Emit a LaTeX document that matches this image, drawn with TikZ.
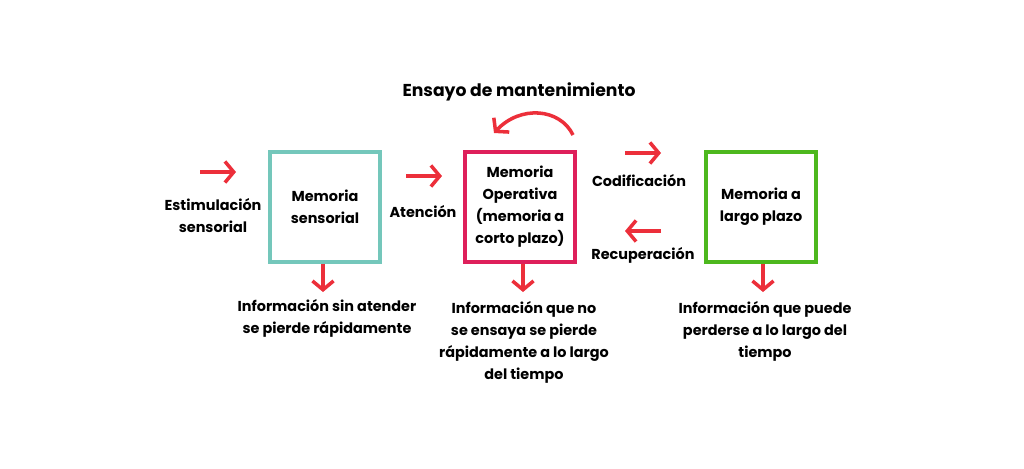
\documentclass[tikz,border=0pt]{standalone}
\usepackage{fontspec}
\setmainfont{Poppins}
\usetikzlibrary{arrows.meta}
\definecolor{flecha}{HTML}{EC2F3A}
\definecolor{turquesa}{HTML}{74C7BB}
\definecolor{carmin}{HTML}{DE1F5B}
\definecolor{verde}{HTML}{4DB81E}
\tikzset{
  caja/.style={draw, line width=2.2pt, minimum size=2.2cm, inner sep=0pt, align=center, font=\bfseries\fontsize{8.2}{12.5}\selectfont},
  texto/.style={align=center, font=\bfseries\fontsize{8.2}{12.5}\selectfont},
  flechita/.style={flecha, line width=2pt, -{Straight Barb[length=5pt, width=12pt]}}
}
\begin{document}
\begin{tikzpicture}[x=0.02cm, y=-0.02cm]
\useasboundingbox (0,0) rectangle (1024,468);
\node[caja, turquesa, text=black] (sens) at (325,207) {Memoria\\sensorial};
\node[caja, carmin, text=black] (oper) at (520,207) {Memoria\\Operativa\\(memoria a\\corto plazo)};
\node[caja, verde, text=black] (largo) at (761,207) {Memoria a\\largo plazo};
%
\node[texto] (ensayo) at (519,92) {\fontsize{9.8}{13}\selectfont Ensayo de mantenimiento};
\node[texto] (estim) at (213,216) {Estimulación\\sensorial};
\node[texto] (aten) at (423,212) {Atención};
\node[texto] (codif) at (639,181) {Codificación};
\node[texto] (recup) at (643,255) {Recuperación};
\node[texto] (info1) at (327,318) {Información sin atender\\se pierde rápidamente};
\node[texto] (info2) at (524,342) {Información que no\\se ensaya se pierde\\rápidamente a lo largo\\del tiempo};
\node[texto] (info3) at (765,331) {Información que puede\\perderse a lo largo del\\tiempo};
%
\coordinate (e0) at (200,172); \coordinate (e1) at (236,172);
\coordinate (a0) at (406,176); \coordinate (a1) at (442,176);
\coordinate (c0) at (625,153); \coordinate (c1) at (661,153);
\coordinate (r0) at (661,231); \coordinate (r1) at (625,231);
\coordinate (b0) at (573,135); \coordinate (b1) at (494,133);
\draw[flechita] (e0) -- (e1);
\draw[flechita] (a0) -- (a1);
\draw[flechita] (c0) -- (c1);
\draw[flechita] (r0) -- (r1);
\draw[flechita] (b0) .. controls (560,108) and (520,105) .. (b1);
\draw[flechita] (sens.south -| 323,0) -- (323,292);
\draw[flechita] (oper.south -| 523,0) -- (523,292);
\draw[flechita] (largo.south -| 763,0) -- (763,292);
\end{tikzpicture}
\end{document}
